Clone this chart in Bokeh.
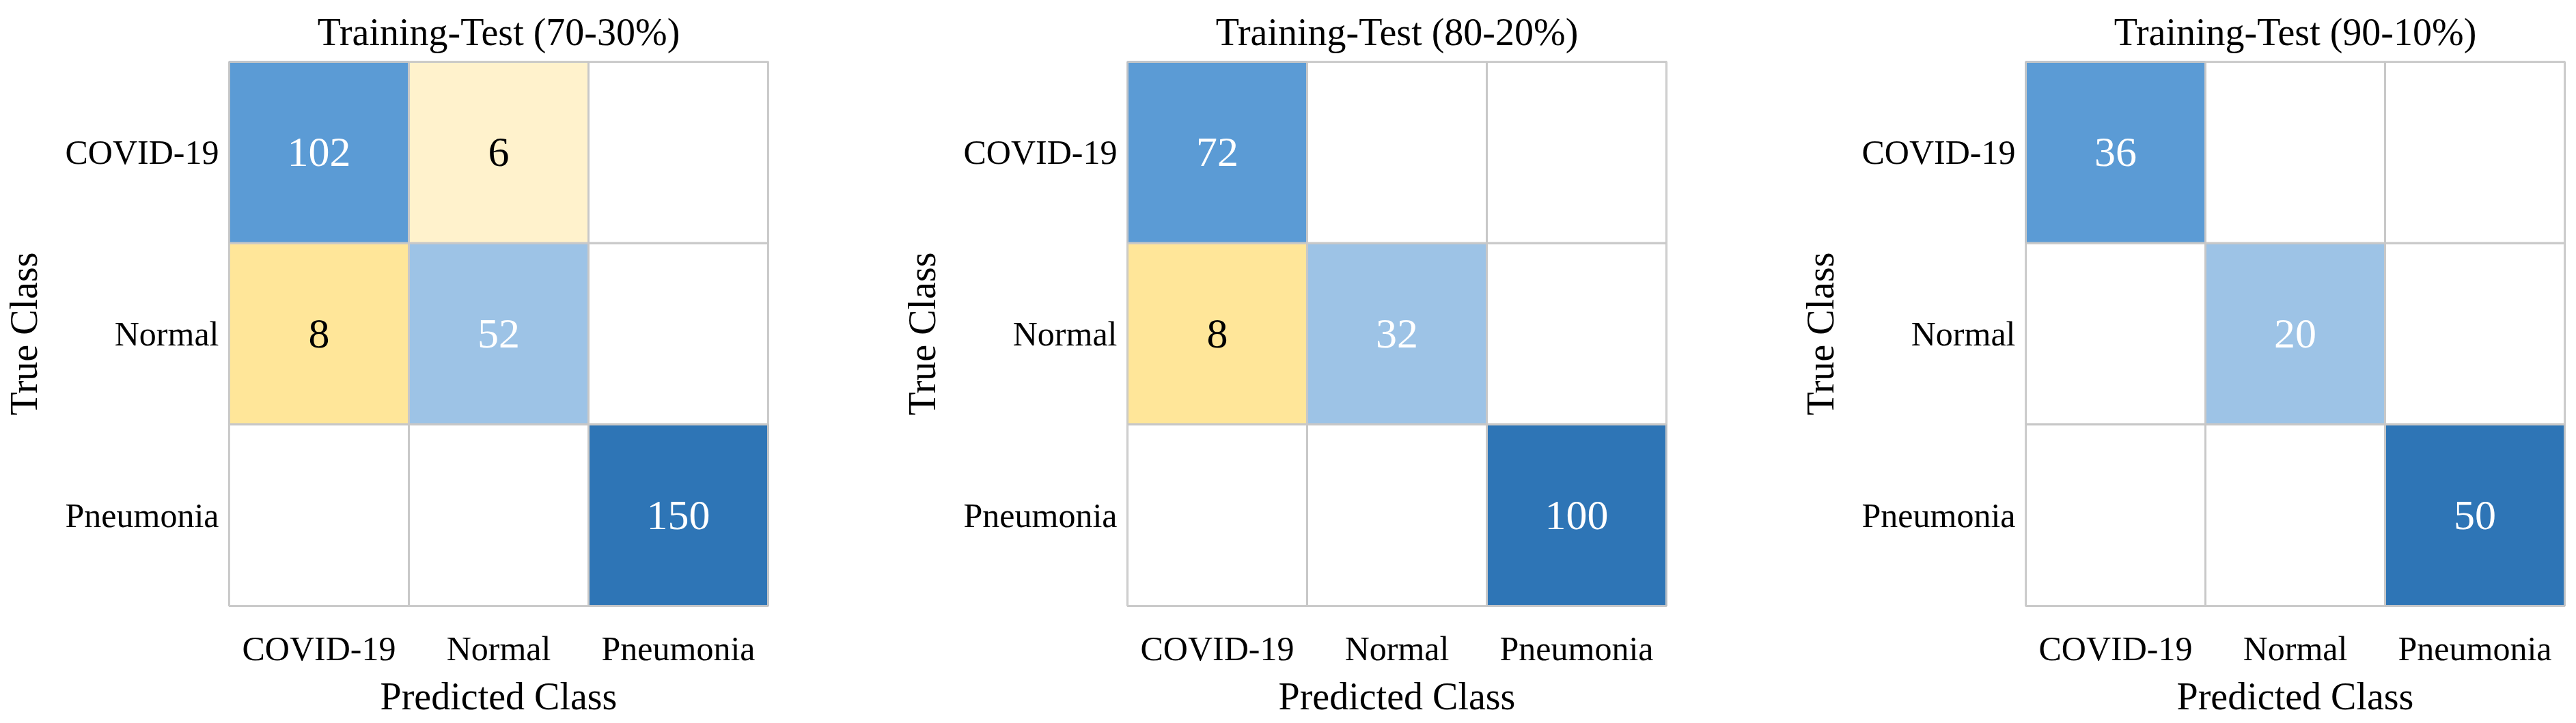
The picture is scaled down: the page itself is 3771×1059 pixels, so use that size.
from bokeh.plotting import figure
from bokeh.layouts import row
from bokeh.models import FactorRange, ColumnDataSource
from bokeh.embed import file_html
from bokeh.resources import INLINE
from bokeh.core.properties import value

# ---------------- data ----------------
classes = ["COVID-19", "Normal", "Pneumonia"]
titles = ["Training-Test (70-30%)", "Training-Test (80-20%)", "Training-Test (90-10%)"]
# rows = true class, columns = predicted class
cm_70_30 = [[102, 6, 0], [8, 52, 0], [0, 0, 150]]
cm_80_20 = [[72, 0, 0], [8, 32, 0], [0, 0, 100]]
cm_90_10 = [[36, 0, 0], [0, 20, 0], [0, 0, 50]]
matrices = [cm_70_30, cm_80_20, cm_90_10]

# ---------------- style ----------------
FONT = "Liberation Serif"
DIAG = {"COVID-19": "#5B9BD5", "Normal": "#9DC3E6", "Pneumonia": "#2E75B6"}
OFF_HIGH = "#FFE699"
OFF_LOW = "#FFF2CC"
GRID = "#C8C8C8"


def cell_style(t, p, v):
    if v == 0:
        return "white", "black"
    if t == p:
        return DIAG[t], "white"
    return (OFF_HIGH if v >= 8 else OFF_LOW), "black"


def make_panel(title, cm, last=False):
    xs, ys, fills, tcols, labels = [], [], [], [], []
    for i, t in enumerate(classes):
        for j, pr in enumerate(classes):
            v = cm[i][j]
            f, c = cell_style(t, pr, v)
            xs.append(pr)
            ys.append(t)
            fills.append(f)
            tcols.append(c)
            labels.append(str(v) if v else "")
    src = ColumnDataSource(dict(pred=xs, true=ys, fill=fills, tcol=tcols, label=labels))
    keep = [k for k, l in enumerate(labels) if l]
    tsrc = ColumnDataSource(dict(
        pred=[xs[k] for k in keep], true=[ys[k] for k in keep],
        label=[labels[k] for k in keep], tcol=[tcols[k] for k in keep],
    ))

    p = figure(
        x_range=FactorRange(*classes),
        y_range=FactorRange(*reversed(classes)),
        frame_width=789, frame_height=797,
        min_border_left=327, min_border_right=(9 if last else 191),
        min_border_top=85, min_border_bottom=161,
        output_backend="svg", toolbar_location=None,
        title=title,
    )
    p.x_range.range_padding = 0
    p.y_range.range_padding = 0

    p.rect(x="pred", y="true", width=1, height=1, source=src,
           fill_color="fill", line_color=GRID, line_width=3)
    p.text(x="pred", y="true", text="label", source=tsrc,
           text_font=value(FONT), text_font_size="62px",
           text_align="center", text_baseline="middle", text_color="tcol")

    p.outline_line_color = GRID
    p.outline_line_width = 3
    p.grid.visible = False
    p.background_fill_color = "white"
    p.border_fill_color = "white"

    p.title.align = "center"
    p.title.text_font = FONT
    p.title.text_font_size = "56px"
    p.title.text_font_style = "normal"
    p.title.text_color = "black"
    p.title.standoff = 26

    for ax in (p.xaxis[0], p.yaxis[0]):
        ax.axis_line_color = None
        ax.major_tick_line_color = None
        ax.minor_tick_line_color = None
        ax.major_label_text_font = FONT
        ax.major_label_text_font_size = "50px"
        ax.major_label_text_color = "black"
        ax.axis_label_text_font = FONT
        ax.axis_label_text_font_size = "56px"
        ax.axis_label_text_font_style = "normal"
        ax.axis_label_text_color = "black"

    p.xaxis.axis_label = "Predicted Class"
    p.xaxis.major_label_standoff = 28
    p.xaxis.axis_label_standoff = 8

    p.yaxis.axis_label = "True Class"
    p.yaxis.major_label_standoff = 9
    p.yaxis.axis_label_standoff = 27
    return p


panels = [make_panel(t, m, last=(k == 2)) for k, (t, m) in enumerate(zip(titles, matrices))]
layout = row(*panels)

with open("out.html", "w") as fh:
    fh.write(file_html(layout, INLINE))
